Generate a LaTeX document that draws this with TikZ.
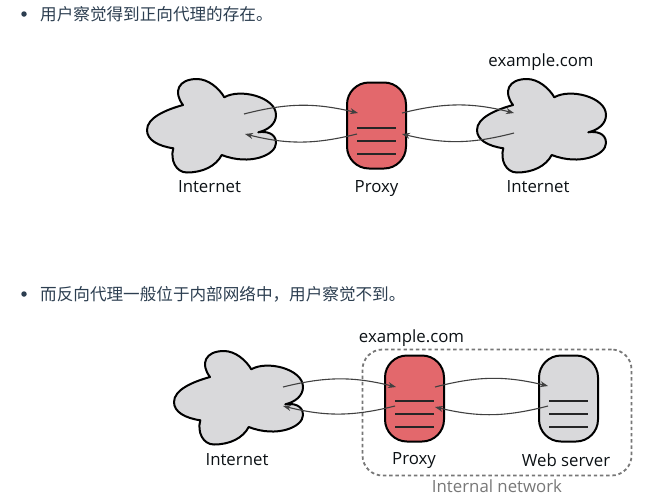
\documentclass[tikz,border=0pt]{standalone}
\usepackage{fontspec}
\setmainfont{Open Sans}
\newfontfamily\cjk{Noto Sans CJK SC}
\usetikzlibrary{arrows.meta}
\definecolor{inktext}{HTML}{2C3E50}
\definecolor{proxyred}{HTML}{E3686C}
\definecolor{boxgray}{HTML}{D9D9DB}
\definecolor{netgray}{HTML}{777777}
\tikzstyle{server} = [rectangle, rounded corners=22pt, minimum width=59pt, minimum height=86pt, draw=black, line width=2pt]
\tikzstyle{stackline} = [line width=2pt, black!85]
\tikzstyle{netbox} = [rectangle, rounded corners=20pt, minimum width=269pt, minimum height=126pt, draw=netgray, line width=1.8pt, dash pattern=on 3.4pt off 2.8pt]
\tikzstyle{label} = [font=\fontsize{16.8}{20}\selectfont, text=black!75!inktext, inner sep=0pt, text height=14pt, text depth=3pt]
\tikzstyle{heading} = [font=\fontsize{16.6}{20}\selectfont\cjk, text=inktext, anchor=west, inner sep=0pt]
\tikzstyle{dot} = [circle, fill=inktext, inner sep=0pt, minimum size=5.5pt]
\tikzstyle{arrow} = [line width=1.1pt, black!75, -{Stealth[length=8pt,width=6pt]}, bend left=14]
\tikzset{
  cloudshape/.pic={
    \draw[fill=boxgray, line width=2pt, line join=round]
      (-28,-20) .. controls (-38,-33) and (-33,-46) .. (-14,-46)
      .. controls (-3,-46) and (8,-37) .. (13.3,-27.7)
      .. controls (29,-37) and (65,-28) .. (65,-10)
      .. controls (65,-1) and (57,5) .. (47.3,7.3)
      .. controls (55,6) and (65,8) .. (65,18)
      .. controls (65,30) and (39,41) .. (10.7,30)
      .. controls (5,41) and (-8,47.5) .. (-24,47.5)
      .. controls (-35,47.5) and (-41,35) .. (-37.7,23.3)
      .. controls (-53,21) and (-64,15) .. (-64,5)
      .. controls (-64,-7) and (-46,-15) .. (-28,-20) -- cycle;
  }
}
\newcommand{\stacklines}[1]{%
  \foreach \dy in {-2,-15,-28}{
    \draw[stackline] ([xshift=-19.5pt,yshift=\dy pt]#1.center) -- ([xshift=19.5pt,yshift=\dy pt]#1.center);
  }%
}

\begin{document}
\begin{tikzpicture}[x=1pt,y=-1pt,node distance=61.5pt]
\useasboundingbox (0,0) rectangle (658,501);

\node(dot_top) [dot] at (24,14) {};
\node(head_top) [heading] at (40,14) {用户察觉得到正向代理的存在。};
\node(dot_bottom) [dot] at (24,294) {};
\node(head_bottom) [heading] at (40,294) {而反向代理一般位于内部网络中，用户察觉不到。};

% forward proxy
\pic at (211,125) {cloudshape};
\pic at (541,125) {cloudshape};
\node(proxy_top) [server, fill=proxyred] at (376.5,125.5) {};
\stacklines{proxy_top}
\node(label_left) [label] at (209.5,187) {Internet};
\node(label_proxy) [label, below of=proxy_top] {Proxy};
\node(label_right) [label] at (538,187) {Internet};
\node(label_site) [label] at (541,61) {example.com};

\coordinate (a1) at (244,114);
\coordinate (a2) at (358,113);
\coordinate (a3) at (357,134);
\coordinate (a4) at (245,134);
\coordinate (b1) at (402,113);
\coordinate (b2) at (514,113);
\coordinate (b3) at (514,133);
\coordinate (b4) at (402,134);
\draw[arrow] (a1) to (a2);
\draw[arrow] (a3) to (a4);
\draw[arrow] (b1) to (b2);
\draw[arrow] (b3) to (b4);

% reverse proxy
\node(internal) [netbox] at (497,412.5) {};
\pic at (238,397) {cloudshape};
\node(proxy_low) [server, fill=proxyred] at (414.5,398.5) {};
\stacklines{proxy_low}
\node(web) [server, fill=boxgray] at (568.5,398.5) {};
\stacklines{web}
\node(label_inet) [label] at (237,460) {Internet};
\node(label_plow) [label] at (414,459) {Proxy};
\node(label_web) [label] at (566,461) {Web server};
\node(label_site2) [label] at (411.5,337) {example.com};
\node(label_net) [label, text=netgray] at (497,487) {Internal network};

\coordinate (c1) at (283,387);
\coordinate (c2) at (396,387);
\coordinate (c3) at (395,406);
\coordinate (c4) at (283,406);
\coordinate (d1) at (435,387);
\coordinate (d2) at (548,386);
\coordinate (d3) at (548,406);
\coordinate (d4) at (435,407);
\draw[arrow] (c1) to (c2);
\draw[arrow] (c3) to (c4);
\draw[arrow] (d1) to (d2);
\draw[arrow] (d3) to (d4);
\end{tikzpicture}
\end{document}
